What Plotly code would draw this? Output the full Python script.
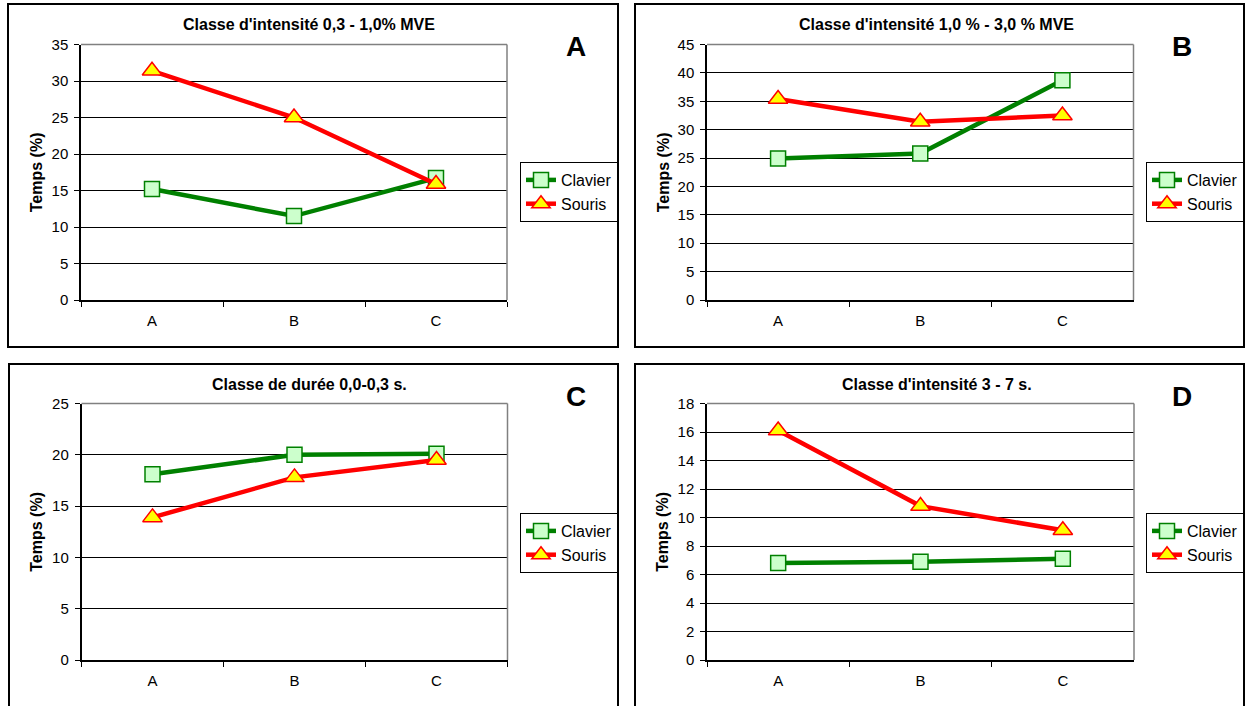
import plotly.graph_objects as go

W, H = 1246, 706

categories = ["A", "B", "C"]

clavier_A = [15.2, 11.5, 16.7]
souris_A = [31.4, 25.0, 15.9]
clavier_B = [24.9, 25.8, 38.7]
souris_B = [35.4, 31.4, 32.5]
clavier_C = [18.1, 20.0, 20.1]
souris_C = [13.9, 17.8, 19.5]
clavier_D = [6.8, 6.9, 7.1]
souris_D = [16.1, 10.8, 9.1]

titles = [
    "Classe d'intensité 0,3 - 1,0% MVE",
    "Classe d'intensité 1,0 % - 3,0 % MVE",
    "Classe de durée 0,0-0,3 s.",
    "Classe d'intensité 3 - 7 s.",
]
letters = ["A", "B", "C", "D"]
y_max = [35, 45, 25, 18]
y_dtick = [5, 5, 5, 2]
y_title = "Temps (%)"
series_names = ["Clavier", "Souris"]

FONT = "Arial, Liberation Sans, sans-serif"


def px(x):
    return x / W


def py(y):
    return 1 - y / H


# plot areas in pixels: (left, right, top, bottom)
areas = [
    (81, 507, 44.5, 300),
    (707, 1133.5, 44.5, 300),
    (81.5, 507.5, 403.5, 660),
    (707, 1134, 403.5, 660),
]
# panel boxes
boxes = [
    (8, 4, 618, 347),
    (635, 4, 1244, 347),
    (9, 364, 618, 712),
    (635, 364, 1244, 712),
]
letter_pos = [(576, 46), (1182, 46), (576, 396), (1182, 396)]
title_pos = [(309, 24), (936, 24), (309, 384), (937, 384)]
legend_top = [162, 162, 513, 513]
data = [
    (clavier_A, souris_A),
    (clavier_B, souris_B),
    (clavier_C, souris_C),
    (clavier_D, souris_D),
]

fig = go.Figure()
shapes = []
annotations = []
layout = dict(
    width=W,
    height=H,
    autosize=False,
    margin=dict(l=0, r=0, t=0, b=0, pad=0, autoexpand=False),
    paper_bgcolor="white",
    plot_bgcolor="white",
    font=dict(family=FONT, color="black"),
)

for i in range(4):
    n = "" if i == 0 else str(i + 1)
    xa, ya = "x" + n, "y" + n
    leg = "legend" + n
    cl, so = data[i]
    fig.add_trace(go.Scatter(
        x=categories, y=cl, name=series_names[0], mode="lines+markers",
        xaxis=xa, yaxis=ya, legend=leg,
        line=dict(color="#008000", width=4.5),
        marker=dict(symbol="square", size=15, color="#CCFFCC",
                    line=dict(color="#008000", width=1.5)),
    ))
    fig.add_trace(go.Scatter(
        x=categories, y=so, name=series_names[1], mode="lines+markers",
        xaxis=xa, yaxis=ya, legend=leg,
        line=dict(color="#FF0000", width=4.5),
        marker=dict(symbol="triangle-up", size=17, color="#FFFF00",
                    line=dict(color="#FF0000", width=1.5)),
    ))
    l, r, t, b = areas[i]
    layout["xaxis" + n] = dict(
        domain=[px(l), px(r)], anchor=ya, type="category",
        tickson="boundaries", ticks="outside", ticklen=5, tickcolor="black",
        showline=True, linecolor="black", linewidth=1.5,
        showgrid=False, zeroline=False, fixedrange=True, automargin=False,
        ticklabelstandoff=6,
        tickfont=dict(size=15, family=FONT, color="black"),
        range=[-0.5, 2.5],
    )
    layout["yaxis" + n] = dict(
        domain=[py(b), py(t)], anchor=xa, range=[0, y_max[i]], dtick=y_dtick[i],
        ticks="outside", ticklen=5, tickcolor="black",
        showline=True, linecolor="black", linewidth=1.5,
        showgrid=True, gridcolor="#000000", gridwidth=1, zeroline=False,
        automargin=False, ticklabelstandoff=3,
        tickfont=dict(size=15, family=FONT, color="black"),
        fixedrange=True,
    )
    # gray top/right frame
    shapes.append(dict(type="line", xref="paper", yref="paper",
                       x0=px(l), x1=px(r), y0=py(t), y1=py(t),
                       line=dict(color="#808080", width=1.5), layer="above"))
    shapes.append(dict(type="line", xref="paper", yref="paper",
                       x0=px(r), x1=px(r), y0=py(t), y1=py(b),
                       line=dict(color="#808080", width=1.5), layer="above"))
    bx0, by0, bx1, by1 = boxes[i]
    shapes.append(dict(type="rect", xref="paper", yref="paper",
                       x0=px(bx0), x1=px(bx1), y0=py(by1), y1=py(by0),
                       line=dict(color="black", width=2), layer="below"))
    tx, ty = title_pos[i]
    annotations.append(dict(text="<b>%s</b>" % titles[i], xref="paper", yref="paper",
                            x=px(tx), y=py(ty), xanchor="center", yanchor="middle",
                            showarrow=False, font=dict(size=16, family=FONT, color="black")))
    lx, ly = letter_pos[i]
    annotations.append(dict(text="<b>%s</b>" % letters[i], xref="paper", yref="paper",
                            x=px(lx), y=py(ly), xanchor="center", yanchor="middle",
                            showarrow=False, font=dict(size=28, family=FONT, color="black")))
    annotations.append(dict(text="<b>%s</b>" % y_title, xref="paper", yref="paper",
                            x=px(bx0 + 28), y=py((t + b) / 2), xanchor="center", yanchor="middle",
                            textangle=-90, showarrow=False,
                            font=dict(size=16, family=FONT, color="black")))
    layout[leg] = dict(
        x=px(bx1), y=py(legend_top[i]), xanchor="right", yanchor="top",
        xref="paper", yref="paper",
        bordercolor="black", borderwidth=1, bgcolor="white",
        font=dict(size=16, family=FONT, color="black"),
        tracegroupgap=0, itemwidth=30,
    )

layout["shapes"] = shapes
layout["annotations"] = annotations
layout["showlegend"] = True
fig.update_layout(**layout)

fig.write_html("out.html")
